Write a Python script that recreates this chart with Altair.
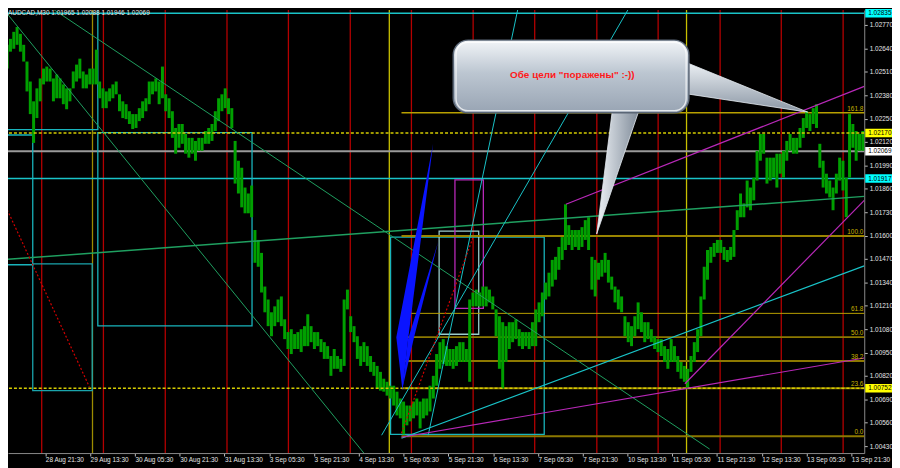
import json
import altair as alt
import pandas as pd

# ---------------- data ----------------
symbol_title = "AUDCAD,M30  1.01965 1.02088 1.01946 1.02069"

# price envelope of the M30 candles, one sample every ~2.36 bars
candle_high = [
    1.02638, 1.02649, 1.02660, 1.02693, 1.02732, 1.02759, 1.02721, 1.02660, 1.02567, 1.02456,
    1.02346, 1.02418, 1.02473, 1.02528, 1.02539, 1.02528, 1.02473, 1.02495, 1.02473, 1.02440,
    1.02418, 1.02418, 1.02512, 1.02550, 1.02583, 1.02512, 1.02495, 1.02528, 1.02528, 1.02633,
    1.02456, 1.02418, 1.02401, 1.02418, 1.02440, 1.02456, 1.02385, 1.02346, 1.02330, 1.02291,
    1.02275, 1.02275, 1.02308, 1.02346, 1.02363, 1.02456, 1.02456, 1.02473, 1.02456, 1.02539,
    1.02385, 1.02363, 1.02291, 1.02198, 1.02220, 1.02220, 1.02165, 1.02143, 1.02143, 1.02126,
    1.02143, 1.02143, 1.02181, 1.02198, 1.02220, 1.02291, 1.02363, 1.02385, 1.02418, 1.02363,
    1.02308, 1.02126, 1.02016, 1.01977, 1.01867, 1.01834, 1.01878, 1.01631, 1.01576, 1.01504,
    1.01317, 1.01245, 1.01174, 1.01207, 1.01245, 1.01262, 1.01135, 1.01064, 1.01080, 1.01053,
    1.01064, 1.01080, 1.01097, 1.01163, 1.01097, 1.01064, 1.01064, 1.01025, 1.01008, 1.00986,
    1.00931, 1.00970, 1.00931, 1.00915, 1.01245, 1.01300, 1.01152, 1.01097, 1.01041, 1.00986,
    1.01008, 1.00986, 1.00931, 1.00898, 1.00876, 1.00843, 1.00805, 1.00788, 1.00766, 1.00766,
    1.00733, 1.00695, 1.00678, 1.00656, 1.00656, 1.00678, 1.00695, 1.00678, 1.00695, 1.00695,
    1.00766, 1.00821, 1.00942, 1.01008, 1.01025, 1.00986, 1.00970, 1.00970, 1.00986, 1.01008,
    1.01008, 1.00970, 1.01245, 1.01284, 1.01300, 1.01284, 1.01317, 1.01317, 1.01300, 1.01262,
    1.01190, 1.01152, 1.01119, 1.01097, 1.01119, 1.01119, 1.01135, 1.01080, 1.01064, 1.01064,
    1.01064, 1.01119, 1.01190, 1.01229, 1.01284, 1.01339, 1.01394, 1.01465, 1.01482, 1.01537,
    1.01592, 1.01774, 1.01658, 1.01631, 1.01631, 1.01631, 1.01647, 1.01686, 1.01702, 1.01482,
    1.01465, 1.01449, 1.01465, 1.01504, 1.01465, 1.01372, 1.01317, 1.01300, 1.01262, 1.01152,
    1.01119, 1.01097, 1.01152, 1.01229, 1.01174, 1.01119, 1.01119, 1.01080, 1.01041, 1.01025,
    1.01025, 1.00986, 1.00970, 1.01025, 1.00986, 1.00931, 1.00898, 1.00876, 1.00860, 1.00931,
    1.01008, 1.01080, 1.01262, 1.01427, 1.01520, 1.01537, 1.01559, 1.01576, 1.01576, 1.01537,
    1.01520, 1.01537, 1.01631, 1.01741, 1.01834, 1.01779, 1.01906, 1.01867, 1.01922, 1.02071,
    1.02165, 1.02165, 1.02033, 1.02033, 1.02033, 1.02055, 1.02055, 1.02071, 1.02126, 1.02165,
    1.02143, 1.02143, 1.02198, 1.02253, 1.02291, 1.02275, 1.02308, 1.02330, 1.02110, 1.02016,
    1.01944, 1.01906, 1.01867, 1.01944, 1.02033, 1.02016, 1.01922, 1.02275, 1.02220, 1.02181,
    1.02165, 1.02181,
]
candle_low = [
    1.02583, 1.02556, 1.02528, 1.02622, 1.02638, 1.02660, 1.02622, 1.02567, 1.02401, 1.02275,
    1.02115, 1.02253, 1.02346, 1.02440, 1.02456, 1.02456, 1.02346, 1.02363, 1.02363, 1.02330,
    1.02302, 1.02346, 1.02418, 1.02456, 1.02473, 1.02418, 1.02418, 1.02440, 1.02440, 1.02440,
    1.02363, 1.02308, 1.02308, 1.02346, 1.02363, 1.02385, 1.02291, 1.02253, 1.02247, 1.02220,
    1.02192, 1.02198, 1.02236, 1.02253, 1.02291, 1.02330, 1.02385, 1.02401, 1.02330, 1.02363,
    1.02291, 1.02253, 1.02143, 1.02055, 1.02088, 1.02110, 1.02055, 1.02033, 1.02055, 1.02016,
    1.02071, 1.02071, 1.02110, 1.02110, 1.02126, 1.02181, 1.02236, 1.02291, 1.02308, 1.02275,
    1.02198, 1.01889, 1.01834, 1.01757, 1.01724, 1.01724, 1.01702, 1.01449, 1.01427, 1.01284,
    1.01174, 1.01097, 1.01041, 1.01097, 1.01119, 1.01097, 1.01025, 1.00970, 1.00942, 1.00970,
    1.00970, 1.00953, 1.00986, 1.00986, 1.01008, 1.00970, 1.00986, 1.00953, 1.00915, 1.00915,
    1.00821, 1.00860, 1.00860, 1.00843, 1.00876, 1.01190, 1.01064, 1.01008, 1.00915, 1.00876,
    1.00898, 1.00876, 1.00843, 1.00821, 1.00750, 1.00739, 1.00733, 1.00711, 1.00695, 1.00656,
    1.00601, 1.00585, 1.00496, 1.00546, 1.00568, 1.00585, 1.00601, 1.00529, 1.00585, 1.00601,
    1.00623, 1.00695, 1.00766, 1.00860, 1.00887, 1.00876, 1.00876, 1.00860, 1.00876, 1.00898,
    1.00898, 1.00898, 1.00788, 1.01207, 1.01207, 1.01207, 1.01207, 1.01207, 1.01229, 1.01190,
    1.01041, 1.00860, 1.00750, 1.00898, 1.00970, 1.01008, 1.01025, 1.00986, 1.00970, 1.00986,
    1.00970, 1.00986, 1.00986, 1.01119, 1.01152, 1.01245, 1.01262, 1.01317, 1.01355, 1.01410,
    1.01465, 1.01520, 1.01548, 1.01520, 1.01537, 1.01520, 1.01537, 1.01576, 1.01520, 1.01300,
    1.01262, 1.01355, 1.01372, 1.01394, 1.01339, 1.01300, 1.01229, 1.01190, 1.01174, 1.01041,
    1.01008, 1.00986, 1.01041, 1.01080, 1.01064, 1.01008, 1.01025, 1.01008, 1.00970, 1.00953,
    1.00931, 1.00898, 1.00860, 1.00898, 1.00898, 1.00843, 1.00805, 1.00788, 1.00750, 1.00843,
    1.00898, 1.00953, 1.01041, 1.01245, 1.01355, 1.01449, 1.01482, 1.01504, 1.01504, 1.01465,
    1.01454, 1.01465, 1.01482, 1.01631, 1.01702, 1.01702, 1.01757, 1.01741, 1.01796, 1.01906,
    1.02016, 1.02055, 1.01889, 1.01906, 1.01922, 1.01867, 1.01944, 1.01922, 1.02016, 1.02071,
    1.02055, 1.02055, 1.02088, 1.02143, 1.02198, 1.02181, 1.02220, 1.02198, 1.01977, 1.01867,
    1.01834, 1.01812, 1.01741, 1.01834, 1.01906, 1.01851, 1.01702, 1.01922, 1.02088, 1.02016,
    1.02071, 1.02071,
]
bars_per_sample = 2.3607
candle_bar = [round(i * bars_per_sample, 3) for i in range(len(candle_high))]

# time axis (bar index, M30 bars from 28 Aug 2012 05:30)
x_tick_bars = [32, 64, 96, 128, 160, 192, 224, 256, 288, 320,
               352, 384, 416, 448, 480, 512, 544, 576, 608]
x_tick_labels = ["28 Aug 21:30", "29 Aug 13:30", "30 Aug 05:30", "30 Aug 21:30",
                 "31 Aug 13:30", "3 Sep 05:30", "3 Sep 21:30", "4 Sep 13:30",
                 "5 Sep 05:30", "5 Sep 21:30", "6 Sep 13:30", "7 Sep 05:30",
                 "7 Sep 21:30", "10 Sep 13:30", "11 Sep 05:30", "11 Sep 21:30",
                 "12 Sep 13:30", "13 Sep 05:30", "13 Sep 21:30"]
y_ticks = [1.00430, 1.00560, 1.00690, 1.00820, 1.00950, 1.01080, 1.01210, 1.01340,
           1.01470, 1.01600, 1.01730, 1.01860, 1.01990, 1.02120, 1.02250, 1.02380,
           1.02510, 1.02640, 1.02770]

# vertical lines
red_sep_bars = [29.4, 73.5, 117.7, 161.8, 205.7, 249.9, 293.6, 337.7, 381.7,
                426.1, 469.9, 514.2, 557.9, 602.1]
yellow_v_bars = [65.7, 277.8, 490.2]
yellow_v_colors = ["#9c8c00", "#c8c000", "#c8c000"]

# horizontal lines across the chart
hline_price = [1.02835, 1.01917, 1.02069]
hline_color = ["#19c3c8", "#19c3c8", "#9a9a9a"]
hline_width = [1.5, 1.5, 2.0]
dashed_h_price = [1.02170, 1.00752]

# price labels on the axis with coloured background
tag_price = [1.02835, 1.02170, 1.02069, 1.01917, 1.00752]
tag_text = ["1.02835", "1.02170", "1.02069", "1.01917", "1.00752"]
tag_bg = ["#00ffff", "#ffff00", "#ffffff", "#00ffff", "#ffff00"]

# fibonacci retracement
fib_label = ["0.0", "23.6", "38.2", "50.0", "61.8", "100.0", "161.8"]
fib_price = [1.00485, 1.00752, 1.00903, 1.01036, 1.01168, 1.01598, 1.02283]
fib_color = ["#8c7800", "#8c7800", "#8c7800", "#8c7800", "#b8a000", "#9a8400", "#b8a000"]
fib_width = [2, 2, 2, 2, 1, 2, 1.5]
fib_start_bar = 286.5
fib_end_bar = 617.2

# trend lines: start bar, start price, end bar, end price, colour
seg_x1 = [0.0, 30.1, 0.0, 305.6, 272.3, 286.5, 286.5, 489.0, 404.0]
seg_p1 = [1.02878, 1.02897, 1.01465, 1.00491, 1.00491, 1.00474, 1.00480, 1.00777, 1.01774]
seg_x2 = [259.6, 506.7, 617.2, 370.7, 451.5, 617.2, 617.2, 617.2, 617.2]
seg_p2 = [1.00392, 1.00414, 1.01818, 1.02897, 1.02897, 1.01432, 1.00920, 1.01796, 1.02429]
seg_color = ["#1fa060", "#1fa060", "#1fa060", "#19c3c8", "#19c3c8", "#19c3c8",
             "#b828b8", "#b828b8", "#b828b8"]
seg_width = [1, 1, 1.5, 1, 1, 1.2, 1.2, 1.2, 1.2]

# dotted red lines
dot_x1 = [0.0, 286.5]
dot_p1 = [1.01823, 1.00502]
dot_x2 = [63.4, 337.5]
dot_p2 = [1.00761, 1.01587]

# rectangles
rect_x1 = [-10.0, 69.5, -10.0, 23.0, 278.7, 313.4, 324.7]
rect_x2 = [69.5, 179.7, 23.0, 65.5, 388.5, 341.7, 345.0]
rect_p1 = [1.02189, 1.01099, 1.01438, 1.00739, 1.00496, 1.01052, 1.01196]
rect_p2 = [1.03000, 1.02172, 1.02159, 1.01443, 1.01592, 1.01625, 1.01910]
rect_color = ["#19b4bc", "#19b4bc", "#19b4bc", "#1aa4ac", "#19b4bc", "#9ccccc", "#b828b8"]

# blue triangles (price, left bar, right bar)
tri_id = [1, 1, 1, 2, 2, 2]
tri_price = [1.00739, 1.01036, 1.02110, 1.00750, 1.01025, 1.01565]
tri_left = [287.2, 282.8, 309.1, 287.2, 291.2, 312.7]
tri_right = [287.2, 291.4, 309.1, 287.2, 295.2, 312.7]

# callout
callout_text = "Обе цели \"поражены\" :-))"
callout_x = [323.5, 491.9]
callout_p = [1.02282, 1.02686]
callout_text_pos = (408.6, 1.02490)
ptr1_bar = [488.3, 576.8]
ptr1_top = [1.02567, 1.02286]
ptr1_bot = [1.02390, 1.02286]
ptr2_price = [1.01609, 1.02302]
ptr2_left = [426.0, 437.3]
ptr2_right = [426.0, 456.5]

# ---------------- chart ----------------
W, H = 864, 447
xs = alt.Scale(domain=[5.31, 617.2], nice=False, zero=False)
ys = alt.Scale(domain=[1.00392, 1.02853], nice=False, zero=False)
FONT = "Liberation Sans"
label_expr = json.dumps(x_tick_labels) + "[round(datum.value / 32) - 1]"

x_axis = alt.Axis(
    orient="bottom", values=x_tick_bars, labelExpr=label_expr, title=None, grid=False,
    labelAlign="left", labelBaseline="top", labelPadding=1,
    labelOverlap=False, labelFlush=False, labelBound=False,
    labelFont=FONT, labelFontSize=6.5, labelColor="#e6e6e6",
    tickColor="#bdbdbd", tickSize=3, domainColor="#8a8a8a")
y_axis = alt.Axis(
    orient="right", values=y_ticks, format=".5f", title=None, grid=False,
    labelPadding=2, labelOverlap=False, labelFlush=False, labelBound=False,
    labelFont=FONT, labelFontSize=6.5, labelColor="#e6e6e6",
    tickColor="#bdbdbd", tickSize=3, domainColor="#8a8a8a")


def X(f):
    return alt.X(f, type="quantitative", scale=xs, axis=x_axis)


def Y(f):
    return alt.Y(f, type="quantitative", scale=ys, axis=y_axis)


candles = pd.DataFrame({"bar": candle_bar, "high": candle_high, "low": candle_low})

layers = []

# candles first carry both axes
layers.append(alt.Chart(candles).mark_rule(color="#00a000", strokeWidth=3.0, opacity=0).encode(
    x=X("bar"), y=Y("low"), y2="high"))

# vertical separators
layers.append(alt.Chart(pd.DataFrame({"bar": red_sep_bars})).mark_rule(
    color="#b40000", strokeWidth=1.3).encode(x=X("bar")))
layers.append(alt.Chart(pd.DataFrame({"bar": yellow_v_bars, "c": yellow_v_colors})).mark_rule(
    strokeWidth=1.3).encode(x=X("bar"), color=alt.Color("c:N", scale=None)))

# horizontal lines
layers.append(alt.Chart(pd.DataFrame({"p": hline_price, "c": hline_color, "w": hline_width})).mark_rule().encode(
    y=Y("p"), color=alt.Color("c:N", scale=None), strokeWidth=alt.StrokeWidth("w:Q", scale=None)))

# rectangles
rects = pd.DataFrame({"x1": rect_x1, "x2": rect_x2, "p1": rect_p1, "p2": rect_p2, "c": rect_color})
layers.append(alt.Chart(rects).mark_rect(filled=False, strokeWidth=1.3, clip=True).encode(
    x=X("x1"), x2="x2", y=Y("p1"), y2="p2", stroke=alt.Stroke("c:N", scale=None)))

# fibonacci levels
fib = pd.DataFrame({"lab": fib_label, "p": fib_price, "c": fib_color, "w": fib_width,
                    "x1": [fib_start_bar] * 7, "x2": [fib_end_bar] * 7})
layers.append(alt.Chart(fib).mark_rule().encode(
    x=X("x1"), x2="x2", y=Y("p"), color=alt.Color("c:N", scale=None),
    strokeWidth=alt.StrokeWidth("w:Q", scale=None)))

# candles
layers.append(alt.Chart(candles).mark_rule(color="#00a000", strokeWidth=3.0).encode(
    x=X("bar"), y=Y("low"), y2="high"))

# dashed horizontal lines
layers.append(alt.Chart(pd.DataFrame({"p": dashed_h_price})).mark_rule(
    color="#d4cc00", strokeWidth=1.3, strokeDash=[3, 2]).encode(y=Y("p")))

# trend lines
segs = pd.DataFrame({"x1": seg_x1, "p1": seg_p1, "x2": seg_x2, "p2": seg_p2,
                     "c": seg_color, "w": seg_width})
layers.append(alt.Chart(segs).mark_rule(clip=True).encode(
    x=X("x1"), x2="x2", y=Y("p1"), y2="p2", color=alt.Color("c:N", scale=None),
    strokeWidth=alt.StrokeWidth("w:Q", scale=None)))
dots = pd.DataFrame({"x1": dot_x1, "p1": dot_p1, "x2": dot_x2, "p2": dot_p2})
layers.append(alt.Chart(dots).mark_rule(clip=True, color="#d00000", strokeWidth=1.2,
                                        strokeDash=[2, 2]).encode(
    x=X("x1"), x2="x2", y=Y("p1"), y2="p2"))

# blue triangles
tri = pd.DataFrame({"id": tri_id, "p": tri_price, "l": tri_left, "r": tri_right})
layers.append(alt.Chart(tri).mark_area(orient="horizontal", color="#0a14ff", opacity=1).encode(
    y=Y("p"), x=X("l"), x2="r", detail="id:N"))

# fib labels
layers.append(alt.Chart(fib.assign(xl=[616.6] * 7)).mark_text(
    align="right", baseline="bottom", dy=-1, font=FONT, fontSize=6.5, color="#c8b200").encode(
    x=X("xl"), y=Y("p"), text="lab:N"))

# callout pointers
grad_ptr = alt.LinearGradient(gradient="linear", x1=0, y1=0, x2=0, y2=1, stops=[
    alt.GradientStop(color="#eef2f6", offset=0), alt.GradientStop(color="#8a96a4", offset=1)])
p1 = pd.DataFrame({"b": ptr1_bar, "t": ptr1_top, "u": ptr1_bot})
layers.append(alt.Chart(p1).mark_area(fill=grad_ptr, stroke="#e6ecf2", strokeWidth=0.8).encode(
    x=X("b"), y=Y("t"), y2="u"))
p2 = pd.DataFrame({"p": ptr2_price, "l": ptr2_left, "r": ptr2_right})
grad_ptr2 = alt.LinearGradient(gradient="linear", x1=0, y1=0, x2=1, y2=0, stops=[
    alt.GradientStop(color="#eef2f6", offset=0), alt.GradientStop(color="#7e8a98", offset=1)])
layers.append(alt.Chart(p2).mark_area(orient="horizontal", fill=grad_ptr2, stroke="#e6ecf2",
                                      strokeWidth=0.8).encode(
    y=Y("p"), x=X("l"), x2="r"))

# callout box
grad_box = alt.LinearGradient(gradient="linear", x1=0, y1=0, x2=0, y2=1, stops=[
    alt.GradientStop(color="#f2f5f8", offset=0), alt.GradientStop(color="#bcc6d1", offset=0.45),
    alt.GradientStop(color="#98a4b3", offset=1)])
box = pd.DataFrame({"x1": [callout_x[0]], "x2": [callout_x[1]],
                    "p1": [callout_p[0]], "p2": [callout_p[1]]})
layers.append(alt.Chart(box).mark_rect(fill=grad_box, stroke="#5a6676", strokeWidth=1.5,
                                       cornerRadius=15).encode(
    x=X("x1"), x2="x2", y=Y("p1"), y2="p2"))
inner = pd.DataFrame({"x1": [callout_x[0] + 2.0], "x2": [callout_x[1] - 2.0],
                      "p1": [callout_p[0] + 0.00012], "p2": [callout_p[1] - 0.00012]})
layers.append(alt.Chart(inner).mark_rect(filled=False, stroke="#ffffff", strokeWidth=1.3,
                                         strokeOpacity=0.75, cornerRadius=12).encode(
    x=X("x1"), x2="x2", y=Y("p1"), y2="p2"))
layers.append(alt.Chart(pd.DataFrame({"b": [callout_text_pos[0]], "p": [callout_text_pos[1]],
                                      "t": [callout_text]})).mark_text(
    font=FONT, fontSize=10, fontWeight="bold", color="#ff1a1a").encode(
    x=X("b"), y=Y("p"), text="t:N"))

# price tags on the axis
tags = pd.DataFrame({"p": tag_price, "t": tag_text, "c": tag_bg})
layers.append(alt.Chart(tags).mark_rule(strokeWidth=8.5).encode(
    y=Y("p"), x=alt.value(W + 1), x2=alt.value(W + 40), color=alt.Color("c:N", scale=None)))
layers.append(alt.Chart(tags).mark_text(align="left", baseline="middle", font=FONT,
                                        fontSize=6.5, color="#000000").encode(
    y=Y("p"), x=alt.value(W + 4), text="t:N"))

# symbol title
layers.append(alt.Chart(pd.DataFrame({"t": [symbol_title]})).mark_text(
    align="left", baseline="top", font=FONT, fontSize=6.5, color="#e6e6e6").encode(
    x=alt.value(0), y=alt.value(0), text="t:N"))

chart = alt.layer(*layers).properties(
    width=W, height=H,
    autosize=alt.AutoSizeParams(type="none"),
    padding={"left": 0, "top": 0, "right": 28, "bottom": 13},
).configure(background="#000000").configure_view(stroke=None, fill="#000000")

chart.save("out.html", embed_options={"renderer": "svg", "actions": False})
